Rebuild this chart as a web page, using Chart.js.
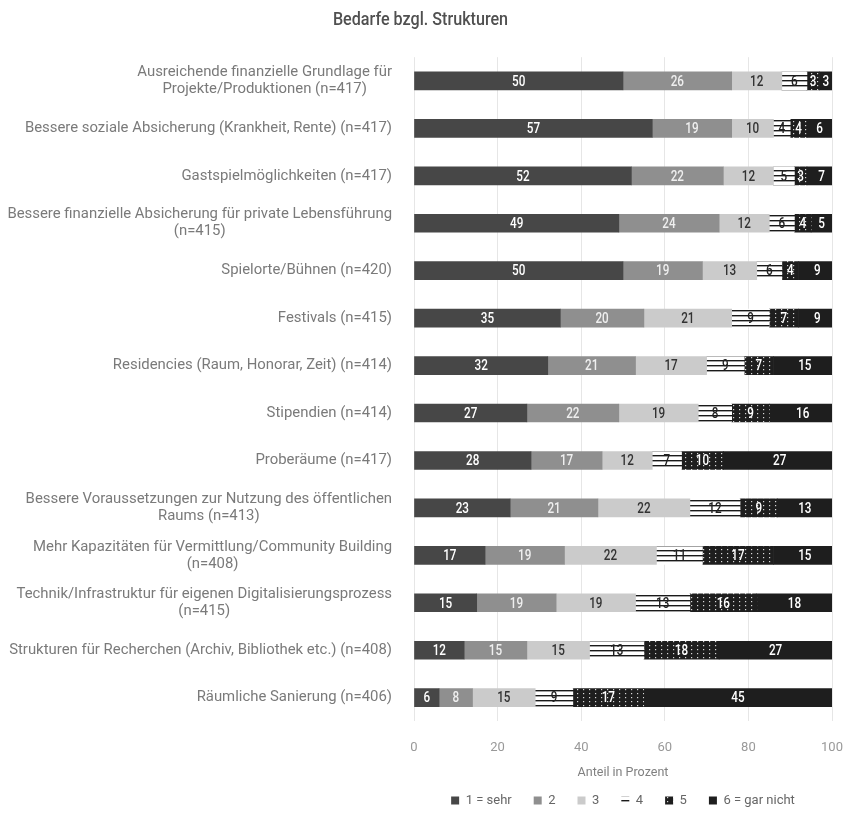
<!DOCTYPE html>
<html>
<head>
<meta charset="utf-8">
<script src="https://cdn.jsdelivr.net/npm/chart.js@4.4.1/dist/chart.umd.min.js"></script>
<style>
  body { margin: 0; background: #fff; }
  #wrap { width: 847px; height: 837px; }
</style>
</head>
<body>
<div id="wrap"><canvas id="chart"></canvas></div>
<script>
// Kategorien (mehrzeilig wie im Original)
var categories = [
    ["Ausreichende finanzielle Grundlage für", "Projekte/Produktionen (n=417)"],
    ["Bessere soziale Absicherung (Krankheit, Rente) (n=417)"],
    ["Gastspielmöglichkeiten (n=417)"],
    ["Bessere finanzielle Absicherung für private Lebensführung", "(n=415)"],
    ["Spielorte/Bühnen (n=420)"],
    ["Festivals (n=415)"],
    ["Residencies (Raum, Honorar, Zeit) (n=414)"],
    ["Stipendien (n=414)"],
    ["Proberäume (n=417)"],
    ["Bessere Voraussetzungen zur Nutzung des öffentlichen", "Raums (n=413)"],
    ["Mehr Kapazitäten für Vermittlung/Community Building", "(n=408)"],
    ["Technik/Infrastruktur für eigenen Digitalisierungsprozess", "(n=415)"],
    ["Strukturen für Recherchen (Archiv, Bibliothek etc.) (n=408)"],
    ["Räumliche Sanierung (n=406)"]
];

var seriesNames = ["1 = sehr", "2", "3", "4", "5", "6 = gar nicht"];

var sehr    = [50, 57, 52, 49, 50, 35, 32, 27, 28, 23, 17, 15, 12, 6];
var stufe2  = [26, 19, 22, 24, 19, 20, 21, 22, 17, 21, 19, 19, 15, 8];
var stufe3  = [12, 10, 12, 12, 13, 21, 17, 19, 12, 22, 22, 19, 15, 15];
var stufe4  = [6, 4, 5, 6, 6, 9, 9, 8, 7, 12, 11, 13, 13, 9];
var stufe5  = [3, 4, 3, 4, 4, 7, 7, 9, 10, 9, 17, 16, 18, 17];
var garNicht = [3, 6, 7, 5, 9, 9, 15, 16, 27, 13, 15, 18, 27, 45];

var xTicks = [0, 20, 40, 60, 80, 100];

// Muster für Stufe 4 (Streifen) und 5 (Punkte)
function stripePattern() {
    var c = document.createElement('canvas');
    c.width = 6; c.height = 5;
    var g = c.getContext('2d');
    g.fillStyle = '#ffffff';
    g.fillRect(0, 0, 6, 5);
    g.fillStyle = '#1a1a1a';
    g.fillRect(0, 0, 6, 1.4);
    return g.createPattern(c, 'repeat');
}
function dotPattern() {
    var c = document.createElement('canvas');
    c.width = 6; c.height = 4;
    var g = c.getContext('2d');
    g.fillStyle = '#1e1e1e';
    g.fillRect(0, 0, 6, 4);
    g.fillStyle = '#d8d8d8';
    g.fillRect(1, 1, 1.2, 1.2);
    return g.createPattern(c, 'repeat');
}

var fills = ['#474747', '#8f8f8f', '#cbcbcb', stripePattern(), dotPattern(), '#1e1e1e'];
var labelColors = ['#ffffff', '#efefef', '#333333', '#222222', '#ffffff', '#ffffff'];
var values = [sehr, stufe2, stufe3, stufe4, stufe5, garNicht];

// schmal gezeichneter Text (Ersatz für eine Condensed-Schrift)
function narrowText(ctx, text, x, y, squeeze) {
    ctx.save();
    ctx.translate(x, y);
    ctx.scale(squeeze, 1);
    ctx.fillText(text, 0, 0);
    ctx.restore();
}

// Werte in die Balken schreiben
var barLabels = {
    id: 'barLabels',
    afterDatasetsDraw: function(chart) {
        var ctx = chart.ctx;
        ctx.save();
        ctx.font = '500 15px Roboto, sans-serif';
        ctx.textAlign = 'center';
        ctx.textBaseline = 'middle';
        chart.data.datasets.forEach(function(ds, i) {
            var meta = chart.getDatasetMeta(i);
            meta.data.forEach(function(bar, j) {
                var cx = (bar.x + bar.base) / 2;
                ctx.fillStyle = labelColors[i];
                narrowText(ctx, String(ds.data[j]), cx, bar.y + 1, 0.78);
            });
        });
        ctx.restore();
    }
};

// Titel und Kategorienbeschriftung
var texts = {
    id: 'texts',
    afterDraw: function(chart) {
        var ctx = chart.ctx;
        var y = chart.scales.y;
        var right = chart.chartArea.left - 22;
        ctx.save();
        ctx.textAlign = 'center';
        ctx.textBaseline = 'middle';

        ctx.font = '500 19px Roboto, sans-serif';
        ctx.fillStyle = '#505050';
        narrowText(ctx, 'Bedarfe bzgl. Strukturen', chart.width / 2 - 3, 20, 0.85);

        ctx.font = '14.9px Roboto, sans-serif';
        ctx.fillStyle = '#7a7a7a';
        categories.forEach(function(lines, i) {
            var py = y.getPixelForValue(i);
            var w = 0;
            lines.forEach(function(l) { w = Math.max(w, ctx.measureText(l).width); });
            var cx = right - w / 2;
            var lh = 17;
            var start = py - (lines.length - 1) * lh / 2;
            lines.forEach(function(l, k) { ctx.fillText(l, cx, start + k * lh); });
        });
        ctx.restore();
    }
};

var ctx = document.getElementById('chart').getContext('2d');
new Chart(ctx, {
    type: 'bar',
    data: {
        labels: categories,
        datasets: values.map(function(v, i) {
            return {
                label: seriesNames[i],
                data: v,
                backgroundColor: fills[i],
                borderWidth: 0,
                barThickness: 18
            };
        })
    },
    options: {
        indexAxis: 'y',
        responsive: true,
        maintainAspectRatio: false,
        animation: false,
        layout: { padding: { top: 4, right: 15, bottom: 20, left: 0 } },
        scales: {
            x: {
                stacked: true,
                min: 0,
                max: 100,
                afterBuildTicks: function(scale) {
                    scale.ticks = xTicks.map(function(v) { return { value: v }; });
                },
                afterFit: function(scale) {
                    scale.paddingLeft = 0;
                    scale.paddingRight = 0;
                },
                grid: { color: '#e6e6e6', drawTicks: false },
                border: { display: false },
                ticks: {
                    color: '#999999',
                    padding: 19,
                    font: { family: 'Roboto', size: 13 }
                },
                title: {
                    display: true,
                    text: 'Anteil in Prozent',
                    color: '#808080',
                    padding: { top: -10, bottom: -8 },
                    font: { family: 'Roboto', size: 12.5 }
                }
            },
            y: {
                stacked: true,
                grid: { display: false },
                border: { display: false },
                ticks: { display: false },
                afterFit: function(scale) { scale.width = 414; }
            }
        },
        plugins: {
            title: {
                display: true,
                text: ' ',
                color: 'rgba(0,0,0,0)',
                padding: { top: 7, bottom: 27 },
                font: { family: 'Roboto', size: 16 }
            },
            legend: {
                position: 'bottom',
                fullSize: false,
                labels: {
                    boxWidth: 8,
                    boxHeight: 8,
                    padding: 22,
                    color: '#666666',
                    font: { family: 'Roboto', size: 13 }
                }
            },
            tooltip: { enabled: false }
        }
    },
    plugins: [barLabels, texts]
});
</script>
</body>
</html>
